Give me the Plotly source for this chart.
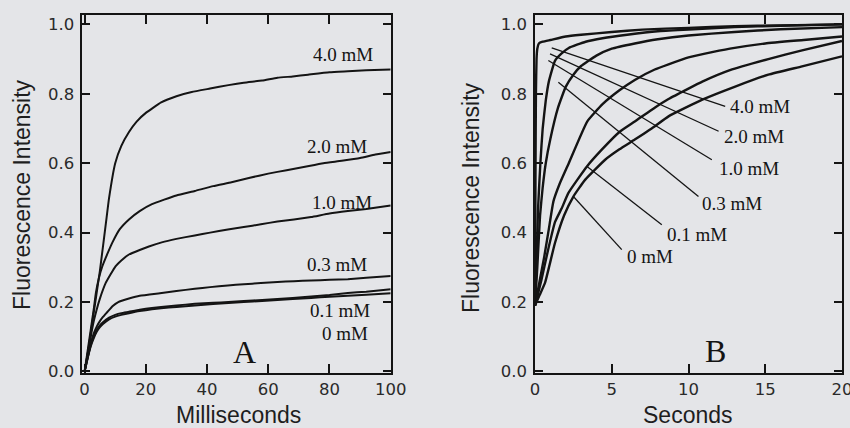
import plotly.graph_objects as go

# ---------------- Panel A (milliseconds) ----------------
a_labels = ["4.0 mM", "2.0 mM", "1.0 mM", "0.3 mM", "0.1 mM", "0 mM"]

a_x_40 = [0, 1, 2, 3, 4, 5, 6, 7, 8, 10, 12, 14.5, 17, 20, 25, 30, 35, 41, 47, 52, 58, 63, 68, 73, 80, 86, 92, 100]
a_y_40 = [0.0, 0.05, 0.11, 0.17, 0.23, 0.29, 0.36, 0.43, 0.50, 0.60, 0.65, 0.69, 0.72, 0.745, 0.775, 0.793, 0.805,
          0.815, 0.825, 0.832, 0.838, 0.846, 0.85, 0.855, 0.862, 0.865, 0.868, 0.87]

a_x_20 = [0, 1, 2, 3, 3.7, 4.7, 5.8, 7.5, 9.1, 11.5, 14.5, 18, 22, 26, 30, 36, 42, 48, 54, 60, 66, 72, 78, 84, 90, 95, 100]
a_y_20 = [0.0, 0.06, 0.12, 0.18, 0.227, 0.27, 0.303, 0.34, 0.372, 0.41, 0.438, 0.462, 0.482, 0.495, 0.507, 0.52,
          0.534, 0.545, 0.558, 0.57, 0.58, 0.59, 0.60, 0.607, 0.615, 0.625, 0.632]

a_x_10 = [0, 1, 2, 3, 4, 5, 6.9, 8.5, 10.1, 12, 14.5, 18, 21, 25.2, 30, 36, 41, 46.8, 52, 57.6, 63, 68.4, 74, 80, 86, 92, 100]
a_y_10 = [0.0, 0.05, 0.10, 0.145, 0.18, 0.21, 0.255, 0.28, 0.303, 0.32, 0.337, 0.35, 0.36, 0.372, 0.382, 0.392,
          0.40, 0.409, 0.416, 0.424, 0.432, 0.438, 0.445, 0.455, 0.462, 0.468, 0.478]

a_x_03 = [0, 1, 2, 3, 4, 5, 6, 7.5, 9.1, 11, 14.5, 18, 25.2, 30, 36, 41, 46.8, 52, 57.6, 63, 68.4, 74, 80, 86, 92, 100]
a_y_03 = [0.0, 0.04, 0.08, 0.11, 0.13, 0.145, 0.157, 0.172, 0.188, 0.20, 0.21, 0.218, 0.226, 0.232, 0.238, 0.243,
          0.248, 0.251, 0.255, 0.258, 0.26, 0.262, 0.264, 0.266, 0.27, 0.275]

a_x_01 = [0, 1, 2, 3, 4, 5, 6, 8, 10, 12, 14.5, 18, 22, 25, 30, 36, 42, 47, 52, 58, 63, 68, 74, 80, 86, 92, 100]
a_y_01 = [0.0, 0.04, 0.075, 0.10, 0.12, 0.133, 0.142, 0.155, 0.163, 0.168, 0.172, 0.178, 0.183, 0.186, 0.19,
          0.195, 0.198, 0.20, 0.203, 0.206, 0.209, 0.212, 0.216, 0.22, 0.226, 0.23, 0.237]

a_x_00 = a_x_01
a_y_00 = [0.0, 0.038, 0.072, 0.096, 0.115, 0.128, 0.137, 0.15, 0.158, 0.163, 0.168, 0.174, 0.179, 0.182, 0.186,
          0.19, 0.194, 0.197, 0.20, 0.203, 0.206, 0.209, 0.212, 0.215, 0.218, 0.221, 0.225]

a_label_x = [84.4, 82.5, 84.1, 82.5, 83.5, 85.1]
a_label_y = [0.912, 0.647, 0.488, 0.307, 0.176, 0.108]

# ---------------- Panel B (seconds) ----------------
b_labels = ["4.0 mM", "2.0 mM", "1.0 mM", "0.3 mM", "0.1 mM", "0 mM"]

b_x_40 = [0, 0.03, 0.06, 0.1, 0.15, 0.25, 0.5, 1, 2, 3, 5, 7, 10, 13, 16, 20]
b_y_40 = [0.19, 0.55, 0.80, 0.90, 0.93, 0.945, 0.95, 0.955, 0.965, 0.97, 0.978, 0.985, 0.99, 0.995, 0.997, 1.0]

b_x_20 = [0, 0.1, 0.2, 0.35, 0.5, 0.7, 0.9, 1.3, 1.7, 2.2, 3.3, 4.4, 6, 8, 10, 13, 16, 20]
b_y_20 = [0.19, 0.32, 0.47, 0.6, 0.7, 0.78, 0.835, 0.895, 0.915, 0.932, 0.95, 0.96, 0.97, 0.98, 0.985, 0.992,
          0.996, 1.0]

b_x_10 = [0, 0.15, 0.33, 0.5, 0.7, 1, 1.5, 2, 2.5, 3, 4, 5, 6.5, 8, 10, 13, 16, 20]
b_y_10 = [0.19, 0.3, 0.45, 0.53, 0.6, 0.67, 0.76, 0.82, 0.855, 0.88, 0.91, 0.93, 0.945, 0.957, 0.968, 0.978,
          0.986, 0.992]

b_x_03 = [0, 0.3, 0.6, 0.9, 1.2, 1.6, 2.2, 3.4, 4.4, 5.5, 6.5, 7.8, 8.7, 10, 11, 12.7, 15, 17.5, 20]
b_y_03 = [0.19, 0.26, 0.33, 0.41, 0.49, 0.54, 0.6, 0.72, 0.77, 0.81, 0.84, 0.87, 0.885, 0.905, 0.915, 0.93,
          0.945, 0.955, 0.965]

b_x_01 = [0, 0.4, 0.8, 1.3, 1.74, 2.17, 3.37, 4.35, 5.5, 6.5, 7.8, 8.7, 10, 10.9, 12.7, 15.2, 17.4, 20]
b_y_01 = [0.19, 0.26, 0.34, 0.43, 0.47, 0.514, 0.59, 0.639, 0.69, 0.72, 0.76, 0.785, 0.815, 0.835, 0.868, 0.9,
          0.925, 0.952]

b_x_00 = [0, 0.3, 0.65, 1.3, 1.9, 2.5, 3.26, 4.57, 5.5, 6.5, 7.6, 8.7, 10.9, 13, 15.2, 17.4, 20]
b_y_00 = [0.19, 0.22, 0.255, 0.37, 0.45, 0.504, 0.552, 0.61, 0.64, 0.668, 0.70, 0.735, 0.783, 0.82, 0.855, 0.879,
          0.908]

# leader lines (start on curve -> end near label)
b_lead_x0 = [1.09, 0.98, 0.87, 1.52, 3.37, 2.5]
b_lead_y0 = [0.932, 0.915, 0.896, 0.833, 0.591, 0.504]
b_lead_x1 = [12.39, 11.96, 11.52, 10.65, 8.26, 5.65]
b_lead_y1 = [0.764, 0.692, 0.61, 0.504, 0.423, 0.351]
b_label_x = [12.6, 12.17, 11.85, 10.76, 8.48, 5.87]
b_label_y = [0.762, 0.677, 0.586, 0.485, 0.394, 0.331]

# ticks
y_ticks = [0.0, 0.2, 0.4, 0.6, 0.8, 1.0]
a_x_ticks = [0, 20, 40, 60, 80, 100]
b_x_ticks = [0, 5, 10, 15, 20]

BG = "#e4e5e8"
INK = "#141414"
TICKFONT = dict(family="DejaVu Sans", size=16.5, color="#2a2a2a")
TITLEFONT = dict(family="Liberation Sans", size=23, color="#1e1e1e")
SERIF = "Liberation Serif"

fig = go.Figure()

a_series = [(a_x_40, a_y_40), (a_x_20, a_y_20), (a_x_10, a_y_10), (a_x_03, a_y_03), (a_x_01, a_y_01),
            (a_x_00, a_y_00)]
for (xs, ys), name in zip(a_series, a_labels):
    fig.add_trace(go.Scatter(x=xs, y=ys, mode="lines", name=name, xaxis="x", yaxis="y",
                             line=dict(color=INK, width=2, shape="spline", smoothing=0.4),
                             showlegend=False, hoverinfo="skip"))

b_series = [(b_x_40, b_y_40), (b_x_20, b_y_20), (b_x_10, b_y_10), (b_x_03, b_y_03), (b_x_01, b_y_01),
            (b_x_00, b_y_00)]
for (xs, ys), name in zip(b_series, b_labels):
    fig.add_trace(go.Scatter(x=xs, y=ys, mode="lines", name=name, xaxis="x2", yaxis="y2",
                             line=dict(color=INK, width=2.4, shape="spline", smoothing=0.4),
                             showlegend=False, hoverinfo="skip"))

for x0, y0, x1, y1 in zip(b_lead_x0, b_lead_y0, b_lead_x1, b_lead_y1):
    fig.add_trace(go.Scatter(x=[x0, x1], y=[y0, y1], mode="lines", xaxis="x2", yaxis="y2",
                             line=dict(color=INK, width=1.3), showlegend=False, hoverinfo="skip"))

annotations = []
for t, x, y in zip(a_labels, a_label_x, a_label_y):
    annotations.append(dict(text=t, x=x, y=y, xref="x", yref="y", showarrow=False,
                            xanchor="center", yanchor="middle",
                            font=dict(family=SERIF, size=19, color=INK)))
for t, x, y in zip(b_labels, b_label_x, b_label_y):
    annotations.append(dict(text=t, x=x, y=y, xref="x2", yref="y2", showarrow=False,
                            xanchor="left", yanchor="middle",
                            font=dict(family=SERIF, size=19, color=INK)))

annotations.append(dict(text="A", x=52.4, y=0.055, xref="x", yref="y", showarrow=False,
                        xanchor="center", yanchor="middle", font=dict(family=SERIF, size=32, color=INK)))
annotations.append(dict(text="B", x=11.74, y=0.058, xref="x2", yref="y2", showarrow=False,
                        xanchor="center", yanchor="middle", font=dict(family=SERIF, size=32, color=INK)))

# axis titles
annotations.append(dict(text="Fluorescence Intensity", x=22 / 850, y=1 - 195 / 428, xref="paper", yref="paper",
                        showarrow=False, textangle=-90, xanchor="center", yanchor="middle", font=TITLEFONT))
annotations.append(dict(text="Fluorescence Intensity", x=471 / 850, y=1 - 197 / 428, xref="paper", yref="paper",
                        showarrow=False, textangle=-90, xanchor="center", yanchor="middle", font=TITLEFONT))
annotations.append(dict(text="Milliseconds", x=238 / 850, y=1 - 415 / 428, xref="paper", yref="paper",
                        showarrow=False, xanchor="center", yanchor="middle", font=TITLEFONT))
annotations.append(dict(text="Seconds", x=688 / 850, y=1 - 415 / 428, xref="paper", yref="paper",
                        showarrow=False, xanchor="center", yanchor="middle", font=TITLEFONT))

ydom = [(428 - 372.5) / 428, (428 - 15) / 428]
common_axis = dict(showline=True, linecolor=INK, linewidth=1.6, mirror="ticks", ticks="inside",
                   tickcolor=INK, tickwidth=1.5, showgrid=False, zeroline=False, tickfont=TICKFONT,
                   automargin=False, ticklabeloverflow="allow")

fig.update_layout(
    width=850, height=428,
    margin=dict(l=0, r=0, t=0, b=0, autoexpand=False),
    paper_bgcolor=BG, plot_bgcolor=BG,
    showlegend=False,
    xaxis=dict(domain=[82.3 / 850, 390.7 / 850], range=[-0.75, 100], tickvals=a_x_ticks, ticklen=9,
               anchor="y", ticklabelstandoff=1, **common_axis),
    yaxis=dict(domain=ydom, range=[-0.003, 1.027], tickvals=y_ticks, tickformat=".1f", ticklen=8,
               anchor="x", ticklabelstandoff=3, **common_axis),
    xaxis2=dict(domain=[535 / 850, 842 / 850], range=[0, 20], tickvals=b_x_ticks, ticklen=9,
                anchor="y2", ticklabelstandoff=1, **common_axis),
    yaxis2=dict(domain=ydom, range=[-0.003, 1.027], tickvals=y_ticks, tickformat=".1f", ticklen=8,
                anchor="x2", ticklabelstandoff=3, **common_axis),
    annotations=annotations,
)

fig.write_html("out.html", config={"displayModeBar": False},
               post_script="document.body.style.margin='0';document.body.style.overflow='hidden';"
                           "document.body.style.background='" + BG + "';")
